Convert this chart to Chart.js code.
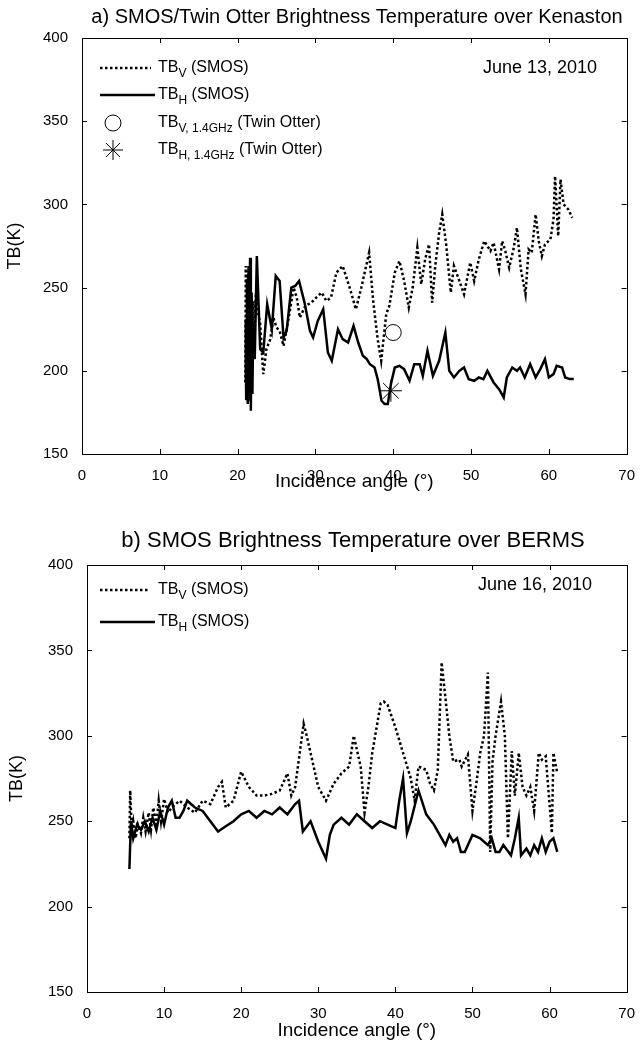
<!DOCTYPE html>
<html>
<head>
<meta charset="utf-8">
<script src="https://cdn.jsdelivr.net/npm/chart.js@4.4.1/dist/chart.umd.min.js"></script>
<style>
  body { margin: 0; background: #fff; }
  #wrap { position: relative; width: 640px; height: 1047px; }
  canvas { position: absolute; left: 0; }
</style>
</head>
<body>
<div id="wrap">
  <canvas id="chartA" width="640" height="495" style="top:0"></canvas>
  <canvas id="chartB" width="640" height="552" style="top:495px"></canvas>
</div>
<script>
// axis ticks
var xTickVals = [0, 10, 20, 30, 40, 50, 60, 70];
var yTickVals = [150, 200, 250, 300, 350, 400];

// a) Kenaston, June 13 2010
var aAngleV = [21.0, 21.05, 21.1, 21.2, 21.25, 21.35, 21.4, 21.5, 21.55, 21.65, 21.7, 21.8, 21.9, 22.0, 22.15, 22.35, 22.6, 22.9, 23.3, 23.7,
  24.2, 24.6, 25.0, 25.4, 25.9, 26.5, 27.2, 27.6, 28.0, 28.7, 29.5, 30.1, 30.8, 31.4, 32.0, 32.7, 33.5, 34.4, 35.2, 35.9,
  36.9, 37.4, 38.0, 38.45, 39.1, 39.5, 40.2, 40.8, 41.4, 42.0, 42.5, 43.1, 43.6, 44.1, 44.6, 45.0, 45.4, 45.9, 46.3, 46.8,
  47.4, 47.8, 48.5, 49.1, 49.9, 50.4, 51.0, 51.7, 52.5, 52.9, 53.6, 54.0, 54.4, 54.9, 55.5, 55.9, 56.4, 57.0, 57.4, 57.8,
  58.3, 58.7, 59.1, 59.5, 60.2, 60.6, 60.8, 61.2, 61.5, 61.9, 62.5, 63.0];
var aTbV = [193, 263, 188, 260, 190, 257, 194, 253, 199, 249, 205, 245, 212, 242, 219, 247, 236, 228, 198, 213,
  219, 232, 226, 224, 215, 230, 250, 244, 232, 239, 241, 244, 247, 242, 244, 259, 263, 250, 237, 250,
  271, 243, 219, 206, 234, 239, 259, 266, 254, 238, 250, 274, 252, 267, 276, 241, 263, 283, 294, 276,
  247, 263, 254, 246, 265, 254, 267, 278, 272, 277, 261, 278, 272, 262, 274, 286, 261, 246, 273, 271,
  294, 278, 269, 276, 279, 291, 317, 281, 315, 300, 297, 292];
var aAngleH = [21.0, 21.05, 21.1, 21.2, 21.3, 21.4, 21.5, 21.6, 21.7, 21.8, 21.9, 22.0, 22.2, 22.47, 22.9, 23.3, 23.8, 24.4, 24.9, 25.4,
  25.9, 26.3, 26.9, 27.4, 27.9, 28.6, 29.3, 29.7, 30.3, 31.0, 31.6, 32.1, 32.9, 33.5, 34.2, 34.9, 35.5, 36.1, 36.6, 37.0,
  37.6, 38.0, 38.5, 38.9, 39.3, 39.7, 40.2, 40.8, 41.4, 42.1, 42.7, 43.4, 43.8, 44.4, 45.1, 45.9, 46.7, 47.2, 47.8, 48.5,
  49.1, 49.7, 50.4, 51.0, 51.6, 52.1, 52.9, 53.6, 54.2, 54.6, 55.3, 55.9, 56.3, 56.9, 57.6, 58.3, 58.9, 59.5, 60.0, 60.6,
  61.0, 61.7, 62.1, 62.7, 63.2];
var aTbH = [194, 231, 183, 255, 180, 263, 182, 268, 176, 247, 186, 228, 207, 269, 213, 211, 240, 225, 257, 254,
  220, 224, 250, 251, 254, 241, 224, 220, 230, 237, 211, 206, 225, 219, 217, 227, 217, 209, 207, 204,
  202, 195, 182, 180, 180, 192, 202, 203, 201, 194, 204, 204, 197, 212, 197, 206, 223, 200, 196, 200,
  202, 195, 194, 196, 195, 200, 193, 189, 184, 196, 202, 200, 202, 196, 204, 196, 201, 207, 196, 198,
  203, 202, 196, 195, 195];
var otterAngleV = [40.0];
var otterTbV = [223];
var otterAngleH = [39.7];
var otterTbH = [188];

// b) BERMS, June 16 2010
var bAngleV = [5.5, 5.6, 5.8, 6.0, 6.3, 6.6, 7.0, 7.3, 7.6, 8.0, 8.3, 8.6, 9.0, 9.3, 9.6, 10.0, 10.5, 11.0, 12.0, 13.0,
  14.0, 15.0, 16.0, 17.0, 17.5, 18.0, 19.0, 20.0, 21.0, 22.0, 23.0, 24.0, 25.0, 26.0, 26.5, 27.0, 28.1, 28.5, 29.0, 30.0,
  31.0, 32.0, 33.0, 34.0, 34.6, 35.5, 36.0, 36.5, 37.0, 38.1, 38.5, 39.0, 40.0, 41.0, 42.0, 42.5, 43.0, 44.0, 44.5, 45.0,
  45.5, 46.0, 46.5, 47.0, 47.5, 48.3, 48.6, 49.4, 50.0, 50.5, 51.0, 51.5, 52.0, 52.3, 52.6, 53.0, 53.7, 54.2, 54.6, 55.1,
  55.5, 56.0, 56.5, 57.0, 57.5, 58.0, 58.6, 59.0, 59.5, 60.0, 60.3, 60.5, 61.0];
var bTbV = [240, 268, 245, 250, 240, 248, 243, 252, 244, 255, 245, 258, 248, 262, 250, 263, 255, 258, 262, 258,
  255, 262, 260, 270, 273, 258, 262, 279, 270, 265, 265, 266, 268, 278, 265, 270, 307, 300, 290, 270,
  262, 272, 278, 282, 300, 282, 255, 270, 290, 319, 320, 318, 305, 290, 275, 262, 282, 280, 272, 268,
  280, 343, 322, 300, 285, 286, 282, 289, 256, 272, 290, 300, 337, 232, 285, 300, 320, 300, 240, 291,
  265, 290, 270, 265, 270, 256, 290, 286, 288, 260, 243, 290, 278];
var bAngleH = [5.5, 5.7, 6.0, 6.5, 7.0, 7.5, 8.0, 8.5, 9.0, 9.5, 10.0, 10.5, 11.0, 11.5, 12.0, 12.5, 13.0, 14.0, 15.0, 16.0,
  17.0, 18.0, 19.0, 20.0, 21.0, 22.0, 23.0, 24.0, 25.0, 26.0, 27.0, 27.5, 28.0, 29.0, 30.0, 31.0, 31.5, 32.0, 33.0, 34.0,
  35.0, 36.0, 37.0, 38.0, 39.0, 40.0, 40.5, 41.0, 41.5, 42.0, 43.0, 44.0, 45.0, 46.0, 46.5, 47.0, 47.5, 48.0, 48.5, 49.0,
  50.0, 51.0, 52.0, 52.5, 53.0, 53.5, 54.0, 55.0, 55.5, 56.0, 56.3, 57.0, 57.5, 58.0, 58.5, 59.0, 59.5, 60.0, 60.5, 61.0];
var bTbH = [222, 250, 240, 248, 245, 250, 244, 252, 245, 256, 248, 258, 262, 252, 252, 256, 262, 258, 256, 250,
  244, 247, 250, 254, 256, 252, 256, 254, 258, 254, 260, 262, 244, 250, 238, 228, 242, 248, 252, 248,
  254, 250, 246, 250, 248, 246, 262, 275, 243, 250, 268, 254, 248, 240, 236, 242, 238, 240, 232, 232,
  242, 240, 236, 240, 232, 232, 236, 230, 240, 252, 230, 234, 230, 236, 232, 240, 232, 238, 240, 232];

var FONT = '"Liberation Sans", Arial, sans-serif';

function pairs(xs, ys) {
  return xs.map(function(v, i) { return { x: v, y: ys[i] }; });
}

function drawSub(ctx, x, y, main, sub, rest) {
  ctx.font = '16px ' + FONT;
  ctx.fillText(main, x, y);
  x += ctx.measureText(main).width;
  ctx.font = '12px ' + FONT;
  ctx.fillText(sub, x, y + 6);
  x += ctx.measureText(sub).width;
  ctx.font = '16px ' + FONT;
  ctx.fillText(rest, x, y);
}

// box, inward ticks, title, date and legend drawn on top of the plot
function makeDecor(d) {
  return {
    id: 'decor',
    afterDatasetsDraw: function(chart) {
      var ctx = chart.ctx, a = chart.chartArea;
      var xs = chart.scales.x, ys = chart.scales.y;
      ctx.save();
      ctx.strokeStyle = '#000';
      ctx.fillStyle = '#000';
      ctx.lineWidth = 1;
      ctx.setLineDash([]);
      ctx.strokeRect(Math.round(a.left) + 0.5, Math.round(a.top) + 0.5, Math.round(a.right - a.left), Math.round(a.bottom - a.top));
      ctx.beginPath();
      xs.ticks.forEach(function(t) {
        var px = Math.round(xs.getPixelForValue(t.value)) + 0.5;
        ctx.moveTo(px, a.bottom); ctx.lineTo(px, a.bottom - 5);
        ctx.moveTo(px, a.top); ctx.lineTo(px, a.top + 5);
      });
      ys.ticks.forEach(function(t) {
        var py = Math.round(ys.getPixelForValue(t.value)) + 0.5;
        ctx.moveTo(a.left, py); ctx.lineTo(a.left + 5, py);
        ctx.moveTo(a.right, py); ctx.lineTo(a.right - 5, py);
      });
      ctx.stroke();

      ctx.textBaseline = 'middle';
      ctx.textAlign = 'center';
      ctx.font = d.titleSize + 'px ' + FONT;
      ctx.fillText(d.title, d.titleX, d.titleY);

      ctx.textAlign = 'left';
      ctx.font = '18px ' + FONT;
      ctx.fillText(d.date, d.dateX, d.dateY);

      d.legend.forEach(function(it) {
        ctx.strokeStyle = '#000';
        if (it.kind === 'dotted' || it.kind === 'solid') {
          ctx.lineWidth = 2.5;
          ctx.setLineDash(it.kind === 'dotted' ? [2.5, 2.5] : []);
          ctx.beginPath();
          ctx.moveTo(it.x0, it.y); ctx.lineTo(it.x1, it.y);
          ctx.stroke();
          ctx.setLineDash([]);
        } else {
          ctx.lineWidth = 1;
          ctx.fillStyle = 'rgba(0,0,0,0)';
          Chart.helpers.drawPoint(ctx, { pointStyle: it.kind, radius: it.r, borderWidth: 1, rotation: 0 }, it.x0, it.y);
        }
        ctx.fillStyle = '#000';
        drawSub(ctx, d.textX, it.y, 'TB', it.sub, it.rest);
      });
      ctx.restore();
    }
  };
}

function axes(plot, canvasH) {
  return {
    x: {
      type: 'linear', min: 0, max: 70,
      afterBuildTicks: function(s) { s.ticks = xTickVals.map(function(v) { return { value: v }; }); },
      afterFit: function(s) { s.height = canvasH - plot.bottom; },
      grid: { display: false }, border: { display: false },
      ticks: { color: '#000', font: { family: FONT, size: 15 }, padding: 5, maxRotation: 0 },
      title: { display: true, text: 'Incidence angle (°)', color: '#000', font: { family: FONT, size: 19 }, padding: { top: 0, bottom: plot.xTitlePad } }
    },
    y: {
      type: 'linear', min: 150, max: 400,
      afterBuildTicks: function(s) { s.ticks = yTickVals.map(function(v) { return { value: v }; }); },
      afterFit: function(s) { s.width = plot.left; },
      grid: { display: false }, border: { display: false },
      ticks: { color: '#000', font: { family: FONT, size: 15 }, padding: 6 },
      title: { display: true, text: 'TB(K)', color: '#000', font: { family: FONT, size: 18 }, padding: { top: plot.yTitlePad, bottom: 0 } }
    }
  };
}

function lineSet(data, dotted) {
  return {
    data: data, showLine: true, pointRadius: 0, borderColor: '#000', backgroundColor: '#000',
    borderWidth: 2.5, borderDash: dotted ? [2.5, 2.5] : [], tension: 0
  };
}

function baseOptions(plot, canvasH) {
  return {
    responsive: false, animation: false, events: [],
    layout: { padding: { top: plot.top, right: 640 - plot.right, left: 0, bottom: 0 } },
    plugins: { legend: { display: false }, title: { display: false }, tooltip: { enabled: false } },
    scales: axes(plot, canvasH)
  };
}

var plotA = { left: 82, right: 633, top: 38, bottom: 454, xTitlePad: 2, yTitlePad: 4 };
new Chart(document.getElementById('chartA'), {
  type: 'scatter',
  data: {
    datasets: [
      lineSet(pairs(aAngleV, aTbV), true),
      lineSet(pairs(aAngleH, aTbH), false),
      { data: pairs(otterAngleV, otterTbV), pointStyle: 'circle', pointRadius: 8, borderWidth: 1,
        borderColor: '#000', backgroundColor: 'rgba(0,0,0,0)' },
      { data: pairs(otterAngleH, otterTbH), pointStyle: 'star', pointRadius: 11, borderWidth: 1,
        borderColor: '#000', backgroundColor: 'rgba(0,0,0,0)' }
    ]
  },
  options: baseOptions(plotA, 495),
  plugins: [makeDecor({
    title: 'a) SMOS/Twin Otter Brightness Temperature over Kenaston', titleX: 357, titleY: 17, titleSize: 20,
    date: 'June 13, 2010', dateX: 483, dateY: 68, textX: 158,
    legend: [
      { kind: 'dotted', x0: 100, x1: 151, y: 68, sub: 'V', rest: ' (SMOS)' },
      { kind: 'solid', x0: 100, x1: 155, y: 95, sub: 'H', rest: ' (SMOS)' },
      { kind: 'circle', x0: 113, r: 8, y: 123, sub: 'V, 1.4GHz', rest: ' (Twin Otter)' },
      { kind: 'star', x0: 113, r: 10, y: 150, sub: 'H, 1.4GHz', rest: ' (Twin Otter)' }
    ]
  })]
});

var plotB = { left: 87, right: 631, top: 70, bottom: 497, xTitlePad: 5, yTitlePad: 6 };
new Chart(document.getElementById('chartB'), {
  type: 'scatter',
  data: {
    datasets: [
      lineSet(pairs(bAngleV, bTbV), true),
      lineSet(pairs(bAngleH, bTbH), false)
    ]
  },
  options: baseOptions(plotB, 552),
  plugins: [makeDecor({
    title: 'b) SMOS Brightness Temperature over BERMS', titleX: 353, titleY: 46, titleSize: 22,
    date: 'June 16, 2010', dateX: 478, dateY: 90, textX: 158,
    legend: [
      { kind: 'dotted', x0: 100, x1: 150, y: 95, sub: 'V', rest: ' (SMOS)' },
      { kind: 'solid', x0: 100, x1: 155, y: 127, sub: 'H', rest: ' (SMOS)' }
    ]
  })]
});
</script>
</body>
</html>
